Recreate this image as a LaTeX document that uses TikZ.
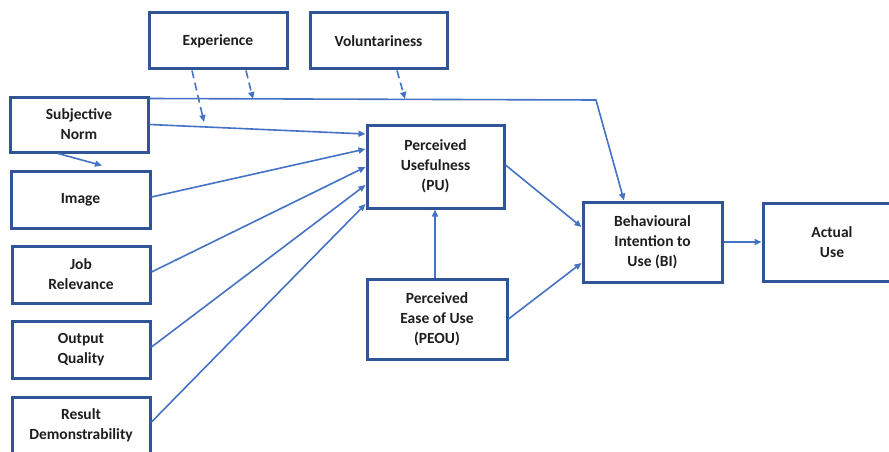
\documentclass[tikz,border=0pt]{standalone}
\usepackage{fontspec}
\setmainfont{Carlito}
\usetikzlibrary{arrows.meta}
\definecolor{boxblue}{HTML}{2F5597}
\definecolor{linkblue}{HTML}{4472C4}
\definecolor{txt}{HTML}{1E1E1E}
\begin{document}
\begin{tikzpicture}[x=1pt,y=-1pt,
  construct/.style={draw=boxblue,line width=3pt,fill=white,align=center,
    text=txt,font=\fontsize{15.5}{20}\selectfont\bfseries,inner sep=0pt},
  link/.style={draw=linkblue,line width=1.6pt,
    -{Triangle[length=7pt,width=6pt]}},
  moderator/.style={link,dash pattern=on 8pt off 4.5pt}]
\useasboundingbox (0,0) rectangle (889,452);

% constructs
\node[construct,minimum width=138pt,minimum height=56pt] (exp) at (218,41) {Experience};
\node[construct,minimum width=137pt,minimum height=56pt] (vol) at (378.5,41) {Voluntariness};
\node[construct,minimum width=138pt,minimum height=55pt] (sn) at (79,124.5) {Subjective\\Norm};
\node[construct,minimum width=139pt,minimum height=57pt] (img) at (80.5,199.5) {Image};
\node[construct,minimum width=138pt,minimum height=57pt] (jr) at (81,274.5) {Job\\Relevance};
\node[construct,minimum width=138pt,minimum height=57pt] (oq) at (81,349.5) {Output\\Quality};
\node[construct,minimum width=138pt,minimum height=57pt] (rd) at (81,425.5) {Result\\Demonstrability};
\node[construct,minimum width=137pt,minimum height=83pt] (pu) at (435.5,166.5) {Perceived\\Usefulness\\(PU)};
\node[construct,minimum width=140pt,minimum height=80pt] (peou) at (437,319) {Perceived\\Ease of Use\\(PEOU)};
\node[construct,minimum width=139pt,minimum height=80pt] (bi) at (652.5,242) {Behavioural\\Intention to\\Use (BI)};
\node[construct,minimum width=138pt,minimum height=78pt] (au) at (832,242) {Actual\\Use};

% antecedents of perceived usefulness
\draw[link] (sn.east) -- ([yshift=32.5pt]pu.west);
\draw[link] ([yshift=2.5pt]img.east) -- ([yshift=17.5pt]pu.west);
\draw[link] ([yshift=2.5pt]jr.east) -- ([yshift=-0.5pt]pu.west);
\draw[link] ([yshift=2.5pt]oq.east) -- ([yshift=-18.5pt]pu.west);
\draw[link] ([yshift=3.5pt]rd.east) -- ([yshift=-37.5pt]pu.west);
\draw[link] ([xshift=-21pt]sn.south) -- ([xshift=21.5pt,yshift=4pt]img.north);

% subjective norm to intention
\coordinate (bend) at (596,100);
\draw[link] ([yshift=-3pt]sn.north east) -- (bend) -- ([xshift=-28.5pt]bi.north);

% moderating effects
\coordinate (expSN) at (204,122);
\coordinate (expBI) at (253,99);
\coordinate (volBI) at (405,99);
\draw[moderator] ([xshift=-26pt]exp.south) -- (expSN);
\draw[moderator] ([xshift=28pt]exp.south) -- (expBI);
\draw[moderator] ([xshift=18.5pt]vol.south) -- (volBI);

% core model
\draw[link] ([yshift=1.5pt]pu.east) -- ([yshift=15pt]bi.west);
\draw[link] (peou.east) -- ([yshift=-21pt]bi.west);
\draw[link] ([xshift=-2pt]peou.north) -- ([xshift=-2pt]peou.north |- pu.south);
\draw[link] (bi.east) -- (au.west);
\end{tikzpicture}
\end{document}
